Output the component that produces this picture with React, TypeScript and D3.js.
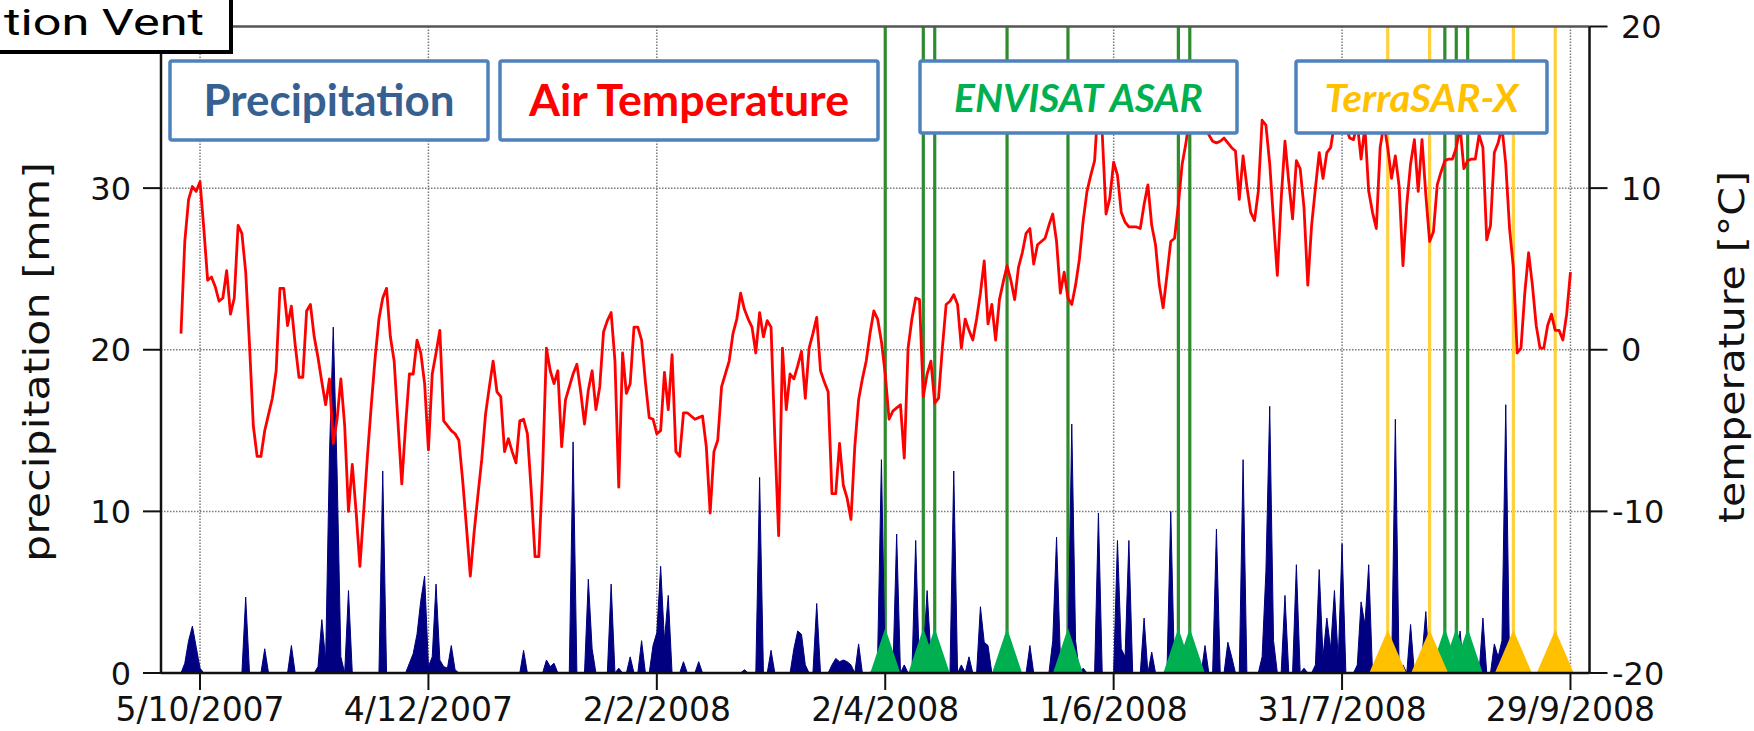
import React from "react";
import * as d3 from "d3";

// Axis ticks
const dateTicks = ["2007-10-05", "2007-12-04", "2008-02-02", "2008-04-02", "2008-06-01", "2008-07-31", "2008-09-29"];
const precipTicks = [0, 10, 20, 30];
const tempTicks = [-20, -10, 0, 10, 20];

// Daily mean air temperature [°C], starting 30/9/2007
const tempStart = "2007-09-30";
const temperature = [
  1.0, 6.7, 9.3, 10.1, 9.8, 10.4, 7.5, 4.3, 4.5, 3.9,
  3.0, 3.2, 4.9, 2.2, 3.2, 7.7, 7.2, 4.8, 0.3, -4.7,
  -6.6, -6.6, -5.0, -4.0, -3.0, -1.3, 3.8, 3.8, 1.5, 2.7,
  0.3, -1.7, -1.7, 2.4, 2.8, 0.8, -0.5, -2.0, -3.4, -1.8,
  -5.8, -4.3, -1.8, -4.7, -10.0, -7.1, -10.0, -13.4, -10.0, -6.5,
  -3.4, -0.5, 1.9, 3.2, 3.8, 0.8, -0.7, -4.5, -8.3, -4.7,
  -1.5, -1.5, 0.6, -0.2, -2.1, -6.2, -1.5, -0.2, 1.2, -4.4,
  -4.7, -5.0, -5.2, -5.6, -8.1, -11.0, -14.0, -11.3, -9.0, -6.8,
  -4.0, -2.3, -0.7, -2.6, -2.9, -6.3, -5.5, -6.3, -7.0, -4.4,
  -4.3, -5.2, -8.7, -12.8, -12.8, -7.4, 0.1, -1.3, -2.1, -1.3,
  -6.0, -3.1, -2.3, -1.5, -0.9, -2.6, -4.6, -2.5, -1.3, -3.7,
  -2.3, 1.1, 1.8, 2.3, -0.7, -8.5, -0.2, -2.7, -2.1, 1.4,
  1.4, 0.6, -2.0, -4.2, -4.3, -5.2, -5.0, -1.4, -3.7, -0.3,
  -6.3, -6.6, -3.9, -3.9, -4.1, -4.3, -4.2, -4.1, -6.0, -10.1,
  -6.3, -5.6, -2.3, -1.5, -0.7, 1.0, 1.9, 3.5, 2.5, 1.9,
  1.4, -0.2, 2.3, 0.8, 1.8, 1.4, -5.5, -11.5, 0.1, -3.7,
  -1.5, -1.8, -1.0, -0.1, -3.0, 0.1, 1.0, 2.0, -1.3, -2.0,
  -2.6, -8.9, -8.9, -5.8, -8.4, -9.2, -10.5, -6.0, -3.1, -1.8,
  -0.7, 1.0, 2.4, 1.9, 0.5, -1.5, -4.3, -3.8, -3.6, -3.4,
  -6.7, 0.1, 1.9, 3.2, 3.1, -2.9, -1.5, -0.7, -3.3, -3.0,
  0.1, 2.8, 3.0, 3.4, 2.8, 0.1, 1.9, 1.2, 0.6, 1.9,
  3.5, 5.5, 1.6, 2.8, 0.6, 3.1, 4.2, 5.2, 4.3, 3.1,
  5.1, 6.0, 7.2, 7.5, 5.3, 6.5, 6.7, 6.9, 7.7, 8.4,
  6.7, 3.5, 4.8, 3.2, 2.8, 4.0, 5.6, 8.0, 9.8, 10.8,
  11.7, 15.5, 13.4, 8.4, 9.4, 11.6, 10.8, 8.5, 7.9, 7.6,
  7.6, 7.6, 7.5, 9.0, 10.2, 7.7, 6.5, 4.0, 2.6, 4.6,
  6.7, 6.9, 9.0, 11.5, 12.8, 14.5, 15.2, 14.0, 15.0, 14.2,
  13.3, 12.9, 12.8, 12.9, 13.1, 12.8, 12.5, 12.3, 9.3, 12.0,
  10.1, 8.5, 8.0, 9.8, 14.2, 13.9, 11.5, 8.0, 4.6, 9.3,
  12.9, 10.4, 8.1, 11.7, 11.2, 8.8, 4.0, 7.7, 10.0, 12.2,
  10.6, 12.2, 12.5, 14.0, 14.5, 14.2, 13.8, 13.1, 13.0, 14.0,
  11.8, 13.8, 9.8, 8.5, 7.5, 12.5, 14.0, 12.5, 10.6, 12.0,
  10.1, 5.2, 9.0, 11.5, 13.0, 9.8, 13.0, 9.6, 6.7, 7.3,
  10.2, 11.0, 11.7, 11.8, 11.8, 12.5, 13.8, 11.2, 11.7, 11.8,
  11.8, 13.3, 12.5, 6.8, 7.7, 12.2, 12.8, 13.8, 11.5, 7.5,
  5.1, -0.2, 0.1, 3.5, 6.0, 4.0, 1.5, 0.1, 0.1, 1.5,
  2.2, 1.2, 1.2, 0.6, 2.2, 4.8,
];

// Daily precipitation [mm], starting 26/9/2007
const precipStart = "2007-09-26";
const precipitation = [
  0, 0, 0, 0, 0, 0.6, 2.0, 2.9, 1.6, 0.3,
  0, 0, 0, 0, 0, 0, 0, 0, 0, 0,
  0, 4.7, 0, 0, 0, 0, 1.5, 0, 0, 0,
  0, 0, 0, 1.7, 0, 0, 0, 0, 0, 0,
  0.4, 3.3, 0.8, 13.5, 21.4, 12.5, 1.0, 0, 5.1, 0,
  0, 0, 0, 0, 0, 0, 0, 12.5, 0, 0,
  0, 0, 0, 0, 0.6, 1.2, 2.4, 4.5, 6.0, 0.4,
  1.0, 5.5, 0.8, 0.4, 0.3, 1.7, 0.2, 0, 0, 0,
  0, 0, 0, 0, 0, 0, 0, 0, 0, 0,
  0, 0, 0, 0, 1.4, 0, 0, 0, 0, 0,
  0.8, 0.4, 0.6, 0, 0, 0, 0, 14.3, 0, 0,
  0, 5.8, 1.5, 0, 0, 0, 0, 5.5, 0, 0.3,
  0, 0, 1.0, 0, 0, 2.0, 0, 0, 1.7, 2.5,
  6.6, 2.0, 4.8, 0, 0, 0, 0.7, 0, 0, 0,
  0.7, 0, 0, 0, 0, 0, 0, 0, 0, 0,
  0, 0, 0.2, 0, 0, 0, 12.1, 0, 0, 1.4,
  0, 0, 0, 0, 0, 1.5, 2.6, 2.4, 0.5, 0,
  0, 4.3, 0, 0, 0, 0.5, 0.9, 0.7, 0.8, 0.7,
  0.5, 0, 1.8, 0, 0, 0, 0.3, 1.0, 13.2, 0,
  0, 0, 8.6, 0, 0.5, 0, 0, 8.2, 0, 1.0,
  5.1, 1.0, 0, 0, 0, 0, 0, 12.5, 0, 0.5,
  0, 1.0, 0, 0, 4.1, 1.9, 1.7, 0, 0, 0,
  0, 0.3, 0, 0, 0, 0, 0, 1.7, 0, 0,
  0, 0, 0, 2.0, 8.4, 1.0, 0, 1.0, 15.4, 2.0,
  0, 0.3, 0, 0, 0, 9.9, 0, 0, 0, 0,
  8.2, 1.5, 1.0, 8.2, 0, 0, 0, 3.4, 0, 1.3,
  0, 0, 0, 0, 10.0, 0, 0, 0, 0, 0,
  0, 0, 0, 1.7, 0, 0, 8.9, 0, 0, 1.9,
  1.0, 0, 0, 13.2, 0, 0, 0, 0, 1.0, 6.3,
  16.5, 2.0, 0, 0, 4.8, 0, 0, 6.7, 0, 0.3,
  0, 0, 0.5, 6.4, 1.0, 3.4, 1.5, 5.1, 0.8, 8.0,
  0, 0, 0, 0.5, 4.4, 3.0, 6.7, 0, 0, 0,
  0, 0, 0, 15.7, 0, 0.5, 0, 3.0, 0, 0.5,
  1.0, 3.8, 0, 0, 0.5, 0, 0, 0.8, 0, 0,
  2.6, 0, 0, 0.5, 0, 0, 3.4, 0, 0, 1.8,
  1.0, 2.0, 16.6, 0.5, 0, 0, 0, 0, 0, 0,
  0, 0, 0, 0, 0, 0, 0,
];

// SAR acquisition dates
const envisatDates = [
  "2008-04-02", "2008-04-12", "2008-04-15", "2008-05-04", "2008-05-20",
  "2008-06-18", "2008-06-21", "2008-08-27", "2008-08-30", "2008-09-02",
];
const terrasarDates = ["2008-08-12", "2008-08-23", "2008-09-14", "2008-09-25"];

const W = 1754;
const H = 731;
const LEFT = 161;
const RIGHT = 1589.5;
const TOP = 26.5;
const BOTTOM = 673;

const AXIS_FONT = "'DejaVu Sans', sans-serif";
const BOX_FONT = "Lato, 'Open Sans', sans-serif";

export default function App() {
  const parse = d3.timeParse("%Y-%m-%d");
  const fmt = d3.timeFormat("%-d/%-m/%Y");

  const x = d3
    .scaleTime()
    .domain([new Date(2007, 8, 24, 18), new Date(2008, 9, 4, 0)])
    .range([LEFT, RIGHT]);
  const yP = d3.scaleLinear().domain([0, 40]).range([BOTTOM, TOP]);
  const yT = d3.scaleLinear().domain([-20, 20]).range([BOTTOM, TOP]);

  const tStart = parse(tempStart) as Date;
  const pStart = parse(precipStart) as Date;
  const tempSeries = temperature.map((v, i) => ({ date: d3.timeDay.offset(tStart, i), v }));
  const precipSeries = precipitation.map((v, i) => ({ date: d3.timeDay.offset(pStart, i), v }));

  const tempLine = d3
    .line<{ date: Date; v: number }>()
    .x((d) => x(d.date))
    .y((d) => yT(d.v));
  const precipArea = d3
    .area<{ date: Date; v: number }>()
    .x((d) => x(d.date))
    .y0(yP(0))
    .y1((d) => yP(d.v));

  const ticks = dateTicks.map((s) => parse(s) as Date);
  const envisat = envisatDates.map((s) => parse(s) as Date);
  const terrasar = terrasarDates.map((s) => parse(s) as Date);

  const triangle = (cx: number, half: number, h: number) =>
    `M${cx - half},${BOTTOM} L${cx},${BOTTOM - h} L${cx + half},${BOTTOM} Z`;

  const gridStyle = { stroke: "#7a7a7a", strokeWidth: 1.5, strokeDasharray: "1.5 1.5" };

  const boxes = [
    { label: "Precipitation", color: "#376092", italic: false, x0: 170, x1: 488, y0: 61, y1: 140, base: 116, len: 251 },
    { label: "Air Temperature", color: "#FF0000", italic: false, x0: 500, x1: 878, y0: 61, y1: 140, base: 116, len: 320 },
    { label: "ENVISAT ASAR", color: "#00B050", italic: true, x0: 920, x1: 1237, y0: 61, y1: 133, base: 112, len: 249 },
    { label: "TerraSAR-X", color: "#FFC000", italic: true, x0: 1296, x1: 1547, y0: 61, y1: 133, base: 112, len: 194 },
  ];

  return (
    <svg
      width={W}
      height={H}
      viewBox={`0 0 ${W} ${H}`}
      style={{ position: "absolute", left: 0, top: 0, display: "block", background: "#fff" }}
    >
      <rect x={0} y={0} width={W} height={H} fill="#fff" />

      {/* grid */}
      <g>
        {ticks.map((t, i) => (
          <line key={`gx${i}`} x1={x(t)} x2={x(t)} y1={TOP} y2={BOTTOM} {...gridStyle} />
        ))}
        {precipTicks
          .filter((v) => v > 0)
          .map((v) => (
            <line key={`gy${v}`} x1={LEFT} x2={RIGHT} y1={yP(v)} y2={yP(v)} {...gridStyle} />
          ))}
      </g>

      {/* acquisition lines */}
      <g>
        {envisat.map((d, i) => (
          <line key={`el${i}`} x1={x(d)} x2={x(d)} y1={TOP} y2={BOTTOM} stroke="#2E8B2E" strokeWidth={3.2} />
        ))}
        {terrasar.map((d, i) => (
          <line key={`tl${i}`} x1={x(d)} x2={x(d)} y1={TOP} y2={BOTTOM} stroke="#FFD03C" strokeWidth={3.2} />
        ))}
      </g>

      {/* precipitation */}
      <path d={precipArea(precipSeries) || ""} fill="#000080" stroke="#000080" strokeWidth={1} />

      {/* air temperature */}
      <path d={tempLine(tempSeries) || ""} fill="none" stroke="#FF0000" strokeWidth={2.8} strokeLinejoin="round" />

      {/* acquisition markers */}
      <g>
        {envisat.map((d, i) => (
          <path key={`et${i}`} d={triangle(x(d), 15, 45)} fill="#00B050" />
        ))}
        {terrasar.map((d, i) => (
          <path key={`tt${i}`} d={triangle(x(d), 18.5, 43)} fill="#FFC000" />
        ))}
      </g>

      {/* legend boxes */}
      {boxes.map((b) => (
        <g key={b.label}>
          <rect
            x={b.x0}
            y={b.y0}
            width={b.x1 - b.x0}
            height={b.y1 - b.y0}
            fill="#fff"
            stroke="#4F81BD"
            strokeWidth={3.5}
            rx={2}
          />
          <text
            x={(b.x0 + b.x1) / 2}
            y={b.base}
            textAnchor="middle"
            fontFamily={BOX_FONT}
            fontWeight={700}
            fontStyle={b.italic ? "italic" : "normal"}
            fontSize={b.italic ? 39 : 43}
            fill={b.color}
            textLength={b.len}
            lengthAdjust="spacingAndGlyphs"
          >
            {b.label}
          </text>
        </g>
      ))}

      {/* frame */}
      <line x1={LEFT} x2={RIGHT} y1={TOP} y2={TOP} stroke="#555" strokeWidth={2.5} />
      <line x1={LEFT} x2={LEFT} y1={TOP} y2={BOTTOM} stroke="#111" strokeWidth={2.5} />
      <line x1={RIGHT} x2={RIGHT} y1={TOP} y2={BOTTOM} stroke="#111" strokeWidth={2.5} />
      <line x1={LEFT} x2={RIGHT} y1={BOTTOM} y2={BOTTOM} stroke="#111" strokeWidth={2.5} />

      {/* bottom axis */}
      <g fontFamily={AXIS_FONT} fontSize={33} fill="#111">
        {ticks.map((t, i) => (
          <g key={`xt${i}`}>
            <line x1={x(t)} x2={x(t)} y1={BOTTOM} y2={BOTTOM + 17} stroke="#111" strokeWidth={2} />
            <text x={x(t)} y={721} textAnchor="middle">
              {fmt(t)}
            </text>
          </g>
        ))}
      </g>

      {/* left axis */}
      <g fontFamily={AXIS_FONT} fontSize={32} fill="#111">
        {precipTicks.map((v) => (
          <g key={`lp${v}`}>
            <line x1={LEFT - 18} x2={LEFT} y1={yP(v)} y2={yP(v)} stroke="#111" strokeWidth={2} />
            <text x={131} y={yP(v)} dy="0.36em" textAnchor="end">
              {v}
            </text>
          </g>
        ))}
      </g>

      {/* right axis */}
      <g fontFamily={AXIS_FONT} fontSize={32} fill="#111">
        {tempTicks.map((v) => (
          <g key={`rt${v}`}>
            <line x1={RIGHT} x2={RIGHT + 18} y1={yT(v)} y2={yT(v)} stroke="#111" strokeWidth={2} />
            <text x={v < 0 ? 1612 : 1621} y={yT(v)} dy="0.36em" textAnchor="start">
              {String(v)}
            </text>
          </g>
        ))}
      </g>

      {/* axis titles */}
      <text
        transform="translate(49,362) rotate(-90)"
        textAnchor="middle"
        fontFamily={AXIS_FONT}
        fontSize={36}
        fill="#111"
        textLength={400}
        lengthAdjust="spacingAndGlyphs"
      >
        precipitation [mm]
      </text>
      <text
        transform="translate(1744,347) rotate(-90)"
        textAnchor="middle"
        fontFamily={AXIS_FONT}
        fontSize={35}
        fill="#111"
        textLength={352}
        lengthAdjust="spacingAndGlyphs"
      >
        temperature [°C]
      </text>

      {/* site label */}
      <rect x={-10} y={-10} width={241} height={62} fill="#fff" stroke="#000" strokeWidth={4} />
      <text
        x={4}
        y={35}
        textAnchor="start"
        fontFamily="Roboto, 'Liberation Sans', sans-serif"
        fontSize={37}
        fill="#000"
        textLength={200}
        lengthAdjust="spacingAndGlyphs"
      >
        tion Vent
      </text>
    </svg>
  );
}
